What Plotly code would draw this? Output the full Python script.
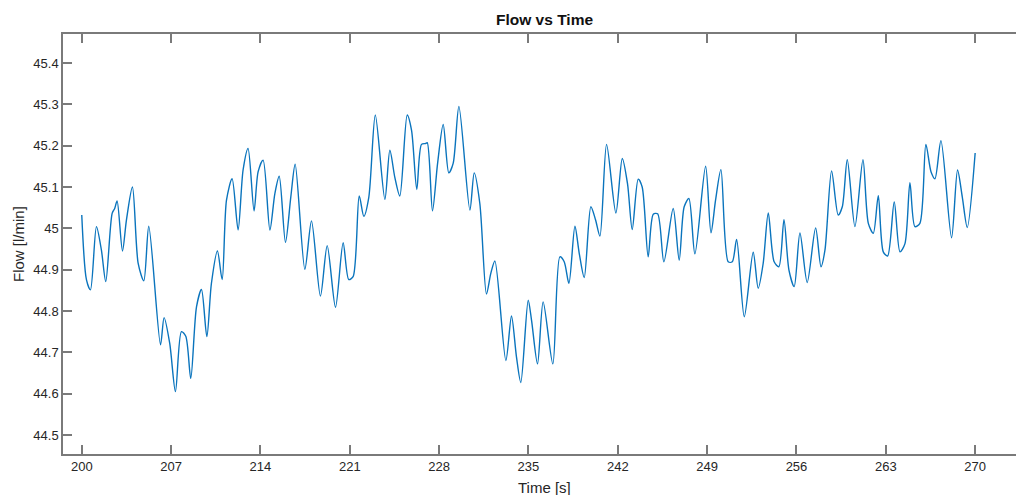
import plotly.graph_objects as go

# Time [s] and Flow [l/min] (extrema and shoulders of the trace)
time_s = [
    200.00, 200.37, 200.68, 201.15, 201.54, 201.88, 202.38, 202.58, 202.77, 203.19,
    203.50, 203.97, 204.42, 204.86, 205.25, 206.17, 206.45, 206.89, 207.34, 207.81,
    208.15, 208.54, 208.99, 209.38, 209.80, 210.16, 210.63, 211.00, 211.34, 211.78,
    212.25, 212.64, 213.03, 213.50, 213.82, 214.21, 214.74, 215.13, 215.47, 215.96,
    216.38, 216.72, 217.48, 218.00, 218.70, 219.23, 219.88, 220.48, 220.92, 221.26,
    221.74, 222.10, 222.49, 223.00, 223.75, 224.14, 224.53, 224.92, 225.50, 225.84,
    226.25, 226.62, 226.93, 227.07, 227.48, 227.88, 228.32, 228.76, 229.10, 229.55,
    230.41, 230.75, 231.19, 231.71, 232.05, 232.37, 233.23, 233.67, 234.06, 234.40,
    234.98, 235.24, 235.71, 236.15, 236.91, 237.46, 237.80, 238.17, 238.64, 238.98,
    239.37, 239.89, 240.26, 240.60, 241.12, 241.85, 242.35, 242.76, 243.13, 243.60,
    243.91, 244.38, 244.78, 245.12, 245.61, 246.34, 246.81, 247.20, 247.57, 248.04,
    248.88, 249.30, 249.66, 250.08, 250.65, 250.97, 251.31, 251.91, 252.61, 253.00,
    253.39, 253.79, 254.25, 254.62, 255.02, 255.41, 255.82, 256.27, 256.84, 257.50,
    257.92, 258.23, 258.75, 259.27, 259.59, 259.98, 260.58, 261.21, 261.63, 262.02,
    262.41, 262.80, 263.14, 263.66, 264.11, 264.50, 264.89, 265.28, 265.67, 266.14,
    266.54, 266.85, 267.32, 268.15, 268.62, 268.99, 269.38, 270.00,
]
flow_lpm = [
    45.032, 44.875, 44.851, 45.004, 44.947, 44.871, 45.036, 45.048, 45.066, 44.945,
    45.020, 45.100, 44.915, 44.873, 45.005, 44.718, 44.784, 44.722, 44.605, 44.750,
    44.739, 44.637, 44.810, 44.852, 44.738, 44.867, 44.945, 44.876, 45.068, 45.120,
    44.996, 45.141, 45.193, 45.042, 45.137, 45.165, 44.996, 45.084, 45.126, 44.966,
    45.076, 45.155, 44.901, 45.018, 44.836, 44.958, 44.809, 44.965, 44.876, 44.883,
    45.078, 45.029, 45.075, 45.274, 45.070, 45.189, 45.123, 45.078, 45.274, 45.237,
    45.094, 45.203, 45.205, 45.207, 45.042, 45.157, 45.251, 45.134, 45.157, 45.295,
    45.044, 45.134, 45.060, 44.841, 44.891, 44.921, 44.680, 44.788, 44.689, 44.627,
    44.826, 44.778, 44.672, 44.822, 44.672, 44.931, 44.919, 44.867, 45.005, 44.939,
    44.881, 45.052, 45.020, 44.981, 45.203, 45.037, 45.169, 45.108, 44.997, 45.119,
    45.100, 44.931, 45.034, 45.035, 44.919, 45.048, 44.923, 45.052, 45.072, 44.938,
    45.150, 44.989, 45.068, 45.142, 44.919, 44.919, 44.973, 44.786, 44.942, 44.855,
    44.915, 45.037, 44.919, 44.907, 45.021, 44.899, 44.859, 44.989, 44.869, 45.001,
    44.907, 44.947, 45.139, 45.032, 45.052, 45.166, 45.004, 45.166, 45.012, 44.988,
    45.079, 44.943, 44.933, 45.064, 44.943, 44.963, 45.110, 45.004, 45.012, 45.203,
    45.137, 45.120, 45.212, 44.977, 45.141, 45.076, 45.002, 45.182,
]

x_tick_vals = [200, 207, 214, 221, 228, 235, 242, 249, 256, 263, 270]
x_tick_text = ["200", "207", "214", "221", "228", "235", "242", "249", "256", "263", "270"]
y_tick_vals = [44.5, 44.6, 44.7, 44.8, 44.9, 45.0, 45.1, 45.2, 45.3, 45.4]
y_tick_text = ["44.5", "44.6", "44.7", "44.8", "44.9", "45", "45.1", "45.2", "45.3", "45.4"]

FONT = "Liberation Sans, Arial, Helvetica, sans-serif"
AXIS_COLOR = "#7a7a7a"
TEXT_COLOR = "#262626"

fig = go.Figure()
fig.add_trace(go.Scatter(
    x=time_s, y=flow_lpm, mode="lines",
    line=dict(color="#0a74BD", width=1.4, shape="spline", smoothing=0.8),
    showlegend=False, hoverinfo="x+y",
))

fig.update_layout(
    width=1016, height=495,
    margin=dict(l=63, r=0, t=34, b=41),
    paper_bgcolor="white", plot_bgcolor="white",
    font=dict(family=FONT, size=13, color=TEXT_COLOR),
    xaxis=dict(
        range=[198.53, 273.2], tickmode="array", tickvals=x_tick_vals, ticktext=x_tick_text,
        showgrid=False, zeroline=False, showline=True, linecolor=AXIS_COLOR, linewidth=1.5,
        mirror="ticks", ticks="inside", ticklen=9, tickwidth=1.5, tickcolor=AXIS_COLOR,
        tickfont=dict(family=FONT, size=13, color=TEXT_COLOR),
    ),
    yaxis=dict(
        range=[44.454, 45.47], tickmode="array", tickvals=y_tick_vals, ticktext=y_tick_text,
        showgrid=False, zeroline=False, showline=True, linecolor=AXIS_COLOR, linewidth=1.5,
        mirror=False, ticks="inside", ticklen=9, tickwidth=1.5, tickcolor=AXIS_COLOR,
        tickfont=dict(family=FONT, size=13, color=TEXT_COLOR),
    ),
    annotations=[
        dict(text="<b>Flow vs Time</b>", xref="paper", yref="paper", x=0.505, y=1.0345,
             xanchor="center", yanchor="middle", showarrow=False,
             font=dict(family=FONT, size=15.5, color="#111111")),
        dict(text="Time [s]", xref="paper", yref="paper", x=0.505, y=-0.0786,
             xanchor="center", yanchor="middle", showarrow=False,
             font=dict(family=FONT, size=15, color=TEXT_COLOR)),
        dict(text="Flow [l/min]", xref="paper", yref="paper", x=-0.0472, y=0.5,
             xanchor="center", yanchor="middle", showarrow=False, textangle=-90,
             font=dict(family=FONT, size=15, color=TEXT_COLOR)),
    ],
)

fig.write_html("out.html")
